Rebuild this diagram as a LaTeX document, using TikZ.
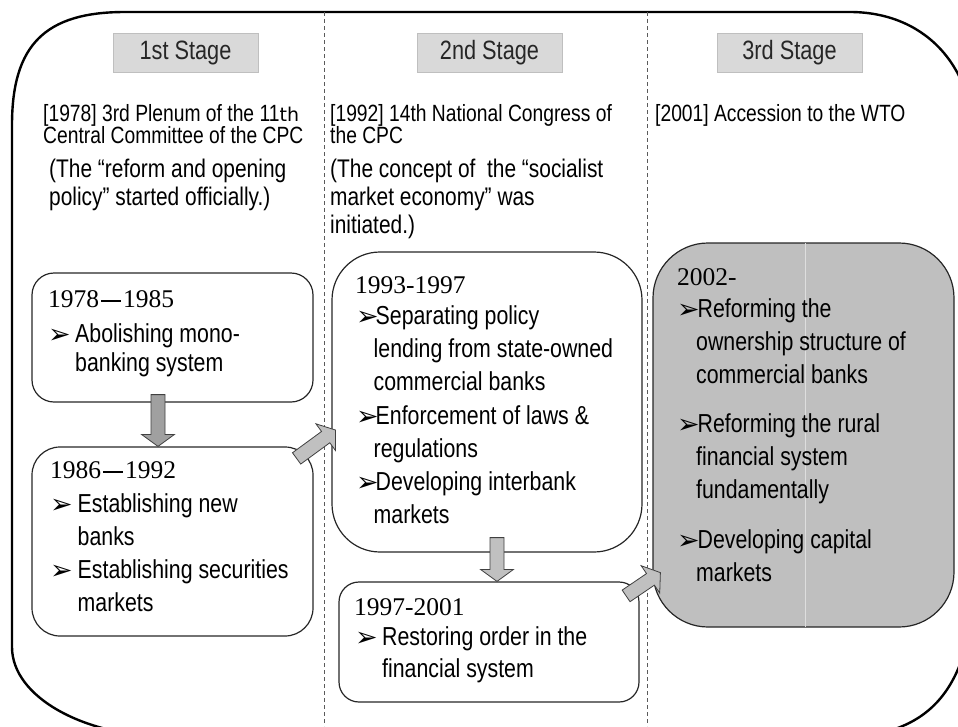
\documentclass[tikz,border=0pt]{standalone}
\usepackage{fontspec}
\newfontfamily\nar[FakeStretch=0.82]{Liberation Sans}
\newfontfamily\ser{Liberation Serif}
\newfontfamily\dvs{DejaVu Sans}
\usetikzlibrary{calc}
\definecolor{stagefill}{RGB}{217,217,217}
\definecolor{stageline}{RGB}{191,191,191}
\definecolor{boxE}{RGB}{191,191,191}
\definecolor{arrdark}{RGB}{160,160,160}
\definecolor{arrlight}{RGB}{192,192,192}
\definecolor{dashc}{RGB}{90,90,90}
\definecolor{streak}{RGB}{222,222,222}
\newcommand\bul{{\dvs\fontsize{27}{27}\selectfont\raisebox{-1pt}{➢}}}
\newcommand\bl[1]{\makebox[#1pt][l]{\bul}}
\newcommand\yd{\hspace{2pt}\rule[5pt]{20pt}{2.2pt}\hspace{2pt}}
\newcommand\blockarrow[3]{%
  \draw[barrow=#3] let \p1=($(#2)-(#1)$), \n1={atan2(\y1,\x1)}, \n2={veclen(\x1,\y1)} in
    ($(#1)+({\n1-90}:7pt)$)
    -- ($(#1)+({\n1-90}:7pt)+(\n1:{\n2*1pt-12pt})$)
    -- ($(#1)+({\n1-90}:16.5pt)+(\n1:{\n2*1pt-12pt})$)
    -- (#2)
    -- ($(#1)+({\n1+90}:16.5pt)+(\n1:{\n2*1pt-12pt})$)
    -- ($(#1)+({\n1+90}:7pt)+(\n1:{\n2*1pt-12pt})$)
    -- ($(#1)+({\n1+90}:7pt)$) -- cycle;}
\tikzset{
  stagebox/.style={draw=stageline, fill=stagefill, line width=0.8pt, minimum width=145pt, minimum height=39pt, inner sep=0pt, font=\nar\fontsize{26.5}{30}\selectfont, text=black!85},
  phase/.style={draw=black!85, line width=1.2pt, inner sep=0pt},
  txt/.style={anchor=base west, inner sep=0pt, font=\nar\fontsize{26}{30}\selectfont},
  yr/.style={anchor=base west, inner sep=0pt, font=\ser\fontsize{25.5}{28}\selectfont},
  hd/.style={anchor=base west, inner sep=0pt, font=\nar\fontsize{23.5}{28}\selectfont},
  hdb/.style={anchor=base west, inner sep=0pt, font=\nar\fontsize{25.5}{30}\selectfont},
  sep/.style={dashc, line width=0.9pt, dash pattern=on 4pt off 3pt},
  frame/.style={line width=2.4pt, black},
  barrow/.style={draw=black!75, line width=0.8pt, fill=#1},
}
\begin{document}
\begin{tikzpicture}[x=1pt,y=-1pt]
\useasboundingbox (0,0) rectangle (958,726);
% outer frame
\begin{scope}
\clip (0,0) rectangle (958,726);
\draw[frame] (12,125) .. controls (12,45) and (45,12) .. (125,12) -- (850,12)
  .. controls (920,12) and (975,60) .. (975,150) -- (975,560)
  .. controls (975,670) and (945,737) .. (840,737) -- (172,737)
  .. controls (84,737) and (12,697) .. (12,647) -- cycle;
\end{scope}
% separators
\draw[sep] (324,12) -- (324,726);
\draw[sep] (647,12) -- (647,726);
% stage labels
\node[stagebox] (s1) at (185.5,52.5) {1st Stage};
\node[stagebox] (s2) at (489.5,52.5) {2nd Stage};
\node[stagebox] (s3) at (789.5,52.5) {3rd Stage};
% headers
\node[hd] (h1a) at (43,121.5) {[1978] 3rd Plenum of the 11{\dvs\fontsize{19}{19}\selectfont th}};
\node[hd] (h1b) at (43,143) {Central Committee of the CPC};
\node[hdb] (h1c) at (49,177) {(The “reform and opening};
\node[hdb] (h1d) at (49,205) {policy” started officially.)};
\node[hd] (h2a) at (330,121.5) {[1992] 14th National Congress of};
\node[hd] (h2b) at (330,143) {the CPC};
\node[hdb] (h2c) at (330,177) {(The concept of\ \ the “socialist};
\node[hdb] (h2d) at (330,205) {market economy” was};
\node[hdb] (h2e) at (330,233) {initiated.)};
\node[hd] (h3a) at (655,121.5) {[2001] Accession to the WTO};
% phase boxes
\node[phase, rounded corners=22pt, minimum width=281pt, minimum height=129pt] (bA) at (172.5,337.5) {};
\node[phase, rounded corners=28pt, minimum width=281pt, minimum height=189pt] (bB) at (172.5,541.5) {};
\node[phase, rounded corners=48pt, minimum width=310pt, minimum height=300pt] (bC) at (487,402) {};
\node[phase, rounded corners=20pt, minimum width=300pt, minimum height=120pt] (bD) at (489,642) {};
\node[phase, fill=boxE, rounded corners=55pt, minimum width=301pt, minimum height=384pt] (bE) at (803.5,435) {};
\draw[streak, line width=1pt] ($(bE.north)+(1.5,1)$) -- ($(bE.south)+(1.5,-1)$);
% box A
\node[yr] (tA0) at (48,307) {1978\yd1985};
\node[txt] (tA1) at (48,342) {\bl{27}Abolishing mono-};
\node[txt] (tA2) at (75,371) {banking system};
% box B
\node[yr] (tB0) at (50,478) {1986\yd1992};
\node[txt] (tB1) at (50,512) {\bl{27.5}Establishing new};
\node[txt] (tB2) at (77.5,545) {banks};
\node[txt] (tB3) at (50,578) {\bl{27.5}Establishing securities};
\node[txt] (tB4) at (77.5,611) {markets};
% box C
\node[yr] (tC0) at (355,293) {1993-1997};
\node[txt] (tC1) at (356,324) {\bl{19.5}Separating policy};
\node[txt] (tC2) at (373.5,357) {lending from state-owned};
\node[txt] (tC3) at (373.5,390) {commercial banks};
\node[txt] (tC4) at (356,424) {\bl{19.5}Enforcement of laws \&};
\node[txt] (tC5) at (373.5,457) {regulations};
\node[txt] (tC6) at (356,490) {\bl{19.5}Developing interbank};
\node[txt] (tC7) at (373.5,523) {markets};
% box D
\node[yr] (tD0) at (354,615) {1997-2001};
\node[txt] (tD1) at (355,645) {\bl{27}Restoring order in the};
\node[txt] (tD2) at (382,677) {financial system};
% box E
\node[yr] (tE0) at (677,285) {2002-};
\node[txt] (tE1) at (677,317) {\bl{20.5}Reforming the};
\node[txt] (tE2) at (696,350) {ownership structure of};
\node[txt] (tE3) at (696,383) {commercial banks};
\node[txt] (tE4) at (677,432) {\bl{20.5}Reforming the rural};
\node[txt] (tE5) at (696,465) {financial system};
\node[txt] (tE6) at (696,498) {fundamentally};
\node[txt] (tE7) at (677,548) {\bl{20.5}Developing capital};
\node[txt] (tE8) at (696,581) {markets};
% arrows
\coordinate (a1s) at ([xshift=-14.5pt,yshift=8pt]bA.south);
\coordinate (a1e) at ([xshift=-14.5pt]bB.north);
\coordinate (a2s) at ([xshift=-17pt,yshift=-12pt]bB.north east);
\coordinate (a2e) at ([xshift=4pt,yshift=-28pt]bC.west);
\coordinate (a3s) at ([xshift=10pt,yshift=15pt]bC.south);
\coordinate (a3e) at ([xshift=8pt]bD.north);
\coordinate (a4s) at ([xshift=-13.5pt,yshift=-14.5pt]bD.north east);
\coordinate (a4e) at ([xshift=8pt,yshift=55pt]bE.south west);
\blockarrow{a1s}{a1e}{arrdark}
\blockarrow{a2s}{a2e}{arrlight}
\blockarrow{a3s}{a3e}{arrlight}
\blockarrow{a4s}{a4e}{arrlight}
\end{tikzpicture}
\end{document}
